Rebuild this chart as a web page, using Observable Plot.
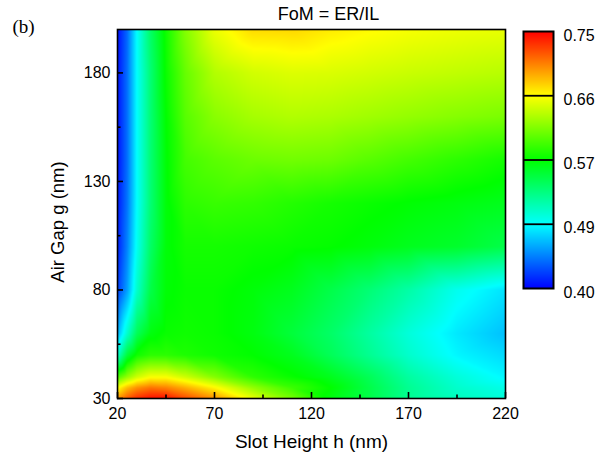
<!DOCTYPE html>
<html>
<head>
<meta charset="utf-8">
<script src="https://cdn.jsdelivr.net/npm/d3@7"></script>
<script src="https://cdn.jsdelivr.net/npm/@observablehq/plot@0.6"></script>
<style>
  body { margin: 0; background: #fff; }
  #chart { position: relative; width: 610px; height: 459px; font-family: "Liberation Sans", Arial, sans-serif; }
  #chart svg { position: absolute; overflow: visible; background: none; }
</style>
</head>
<body>
<div id="chart"></div>
<script>
// Sampled grid: slot height h (nm) across, air gap g (nm) down the rows
const slotHeights = [20, 25, 30, 37, 45, 55, 70, 90, 110, 130, 150, 170, 195, 220];
const airGaps = [30, 35, 40, 50, 60, 80, 100, 120, 140, 160, 180, 200];
// FoM = ER/IL, one row per air gap (g = 30 first)
const fom = [
  [0.700, 0.720, 0.735, 0.745, 0.745, 0.725, 0.700, 0.655, 0.615, 0.570, 0.550, 0.525, 0.510, 0.500],
  [0.660, 0.685, 0.700, 0.710, 0.705, 0.690, 0.665, 0.625, 0.595, 0.575, 0.550, 0.525, 0.505, 0.495],
  [0.600, 0.625, 0.645, 0.660, 0.660, 0.645, 0.620, 0.590, 0.577, 0.565, 0.545, 0.520, 0.500, 0.485],
  [0.505, 0.555, 0.580, 0.590, 0.590, 0.585, 0.580, 0.575, 0.565, 0.545, 0.525, 0.505, 0.485, 0.475],
  [0.460, 0.505, 0.545, 0.570, 0.578, 0.580, 0.578, 0.570, 0.555, 0.540, 0.520, 0.500, 0.480, 0.466],
  [0.420, 0.455, 0.505, 0.550, 0.573, 0.578, 0.578, 0.572, 0.565, 0.550, 0.535, 0.518, 0.493, 0.478],
  [0.410, 0.445, 0.492, 0.540, 0.572, 0.582, 0.582, 0.580, 0.578, 0.576, 0.571, 0.565, 0.560, 0.550],
  [0.408, 0.440, 0.488, 0.535, 0.572, 0.590, 0.594, 0.592, 0.587, 0.582, 0.578, 0.574, 0.570, 0.565],
  [0.406, 0.438, 0.488, 0.535, 0.573, 0.598, 0.606, 0.612, 0.614, 0.612, 0.605, 0.598, 0.590, 0.582],
  [0.406, 0.438, 0.488, 0.535, 0.575, 0.605, 0.622, 0.632, 0.636, 0.634, 0.630, 0.626, 0.621, 0.617],
  [0.406, 0.438, 0.488, 0.535, 0.578, 0.610, 0.636, 0.647, 0.651, 0.650, 0.647, 0.644, 0.641, 0.638],
  [0.404, 0.436, 0.488, 0.540, 0.580, 0.620, 0.656, 0.675, 0.676, 0.669, 0.664, 0.660, 0.657, 0.655]
];

// Colour bar levels and their printed labels
const colorLevels = [0.40, 0.4875, 0.575, 0.6625, 0.75];
const colorLabels = ["0.40", "0.49", "0.57", "0.66", "0.75"];

// Axis ticks
const xTicks = [20, 70, 120, 170, 220];
const xMinorTicks = [45, 95, 145, 195];
const yTicks = [30, 80, 130, 180];
const yMinorTicks = [55, 105, 155];

const chartTitle = "FoM = ER/IL";
const panelTag = "(b)";
const xLabel = "Slot Height h (nm)";
const yLabel = "Air Gap g (nm)";

const points = airGaps.flatMap((g, i) => slotHeights.map((h, j) => ({h, g, v: fom[i][j]})));

const jet = d3.piecewise(d3.interpolateRgb, ["#0000ff", "#00ffff", "#00ff00", "#ffff00", "#ff0000"]);
const colorScale = {type: "linear", domain: [colorLevels[0], colorLevels[colorLevels.length - 1]], interpolate: jet};

const W = 610, H = 459;
const mL = 117, mR = 105, mT = 29, mB = 61;
const frameW = W - mL - mR, frameH = H - mT - mB;

const main = Plot.plot({
  width: W, height: H,
  marginLeft: mL, marginRight: mR, marginTop: mT, marginBottom: mB,
  style: {fontFamily: "Liberation Sans, Arial, sans-serif", fontSize: "16px", color: "#000", background: "none"},
  x: {domain: [20, 220]},
  y: {domain: [30, 200]},
  color: colorScale,
  marks: [
    Plot.raster(points, {x: "h", y: "g", fill: "v", interpolate: "barycentric"}),
    Plot.ruleX(xTicks, {x: d => d, insetTop: frameH - 6, stroke: "#000", strokeWidth: 1.6}),
    Plot.ruleX(xMinorTicks, {x: d => d, insetTop: frameH - 3.5, stroke: "#000", strokeWidth: 1.6}),
    Plot.ruleY(yTicks, {y: d => d, insetRight: frameW - 6, stroke: "#000", strokeWidth: 1.6}),
    Plot.ruleY(yMinorTicks, {y: d => d, insetRight: frameW - 3.5, stroke: "#000", strokeWidth: 1.6}),
    Plot.frame({stroke: "#000", strokeWidth: 1.6}),
    Plot.axisX(xTicks, {tickSize: 0, tickPadding: 9, label: null, fontSize: 16}),
    Plot.axisY(yTicks, {tickSize: 0, tickPadding: 7, label: null, fontSize: 16}),
    Plot.text([xLabel], {frameAnchor: "bottom", dy: 49, lineAnchor: "bottom", fontSize: 19, text: d => d}),
    Plot.text([yLabel], {frameAnchor: "left", textAnchor: "middle", dx: -54, dy: 8, rotate: -90,
      lineAnchor: "bottom", fontSize: 18.5, text: d => d}),
    Plot.text([chartTitle], {frameAnchor: "top", dx: 17, dy: -9.5, lineAnchor: "bottom", fontSize: 18, text: d => d}),
    Plot.text([panelTag], {frameAnchor: "top-left", dx: -105, dy: 3, lineAnchor: "bottom", textAnchor: "start",
      fontFamily: "Liberation Serif, Times New Roman, serif", fontSize: 19, text: d => d})
  ]
});
main.style.left = "0px";
main.style.top = "0px";

// Colour bar
const cbW = 90, cbH = 280;
const bar = Plot.plot({
  width: cbW, height: cbH,
  marginLeft: 3, marginRight: 57, marginTop: 11, marginBottom: 12,
  style: {fontFamily: "Liberation Sans, Arial, sans-serif", fontSize: "16px", color: "#000", background: "none"},
  x: {domain: [0, 1], axis: null},
  y: {domain: [colorLevels[0], colorLevels[colorLevels.length - 1]], axis: null},
  color: colorScale,
  marks: [
    Plot.raster({fill: (x, y) => y, x1: 0, x2: 1, y1: colorLevels[0], y2: colorLevels[colorLevels.length - 1]}),
    Plot.ruleY(colorLevels.slice(1, -1), {y: d => d, stroke: "#000", strokeWidth: 1.8}),
    Plot.frame({stroke: "#000", strokeWidth: 2}),
    Plot.text(colorLevels, {y: d => d, frameAnchor: "right", dx: 10, dy: 4, textAnchor: "start",
      fontSize: 16, text: (d, i) => colorLabels[i]})
  ]
});
bar.style.left = "520px";
bar.style.top = "20px";

const chart = document.getElementById("chart");
chart.append(main, bar);
</script>
</body>
</html>
